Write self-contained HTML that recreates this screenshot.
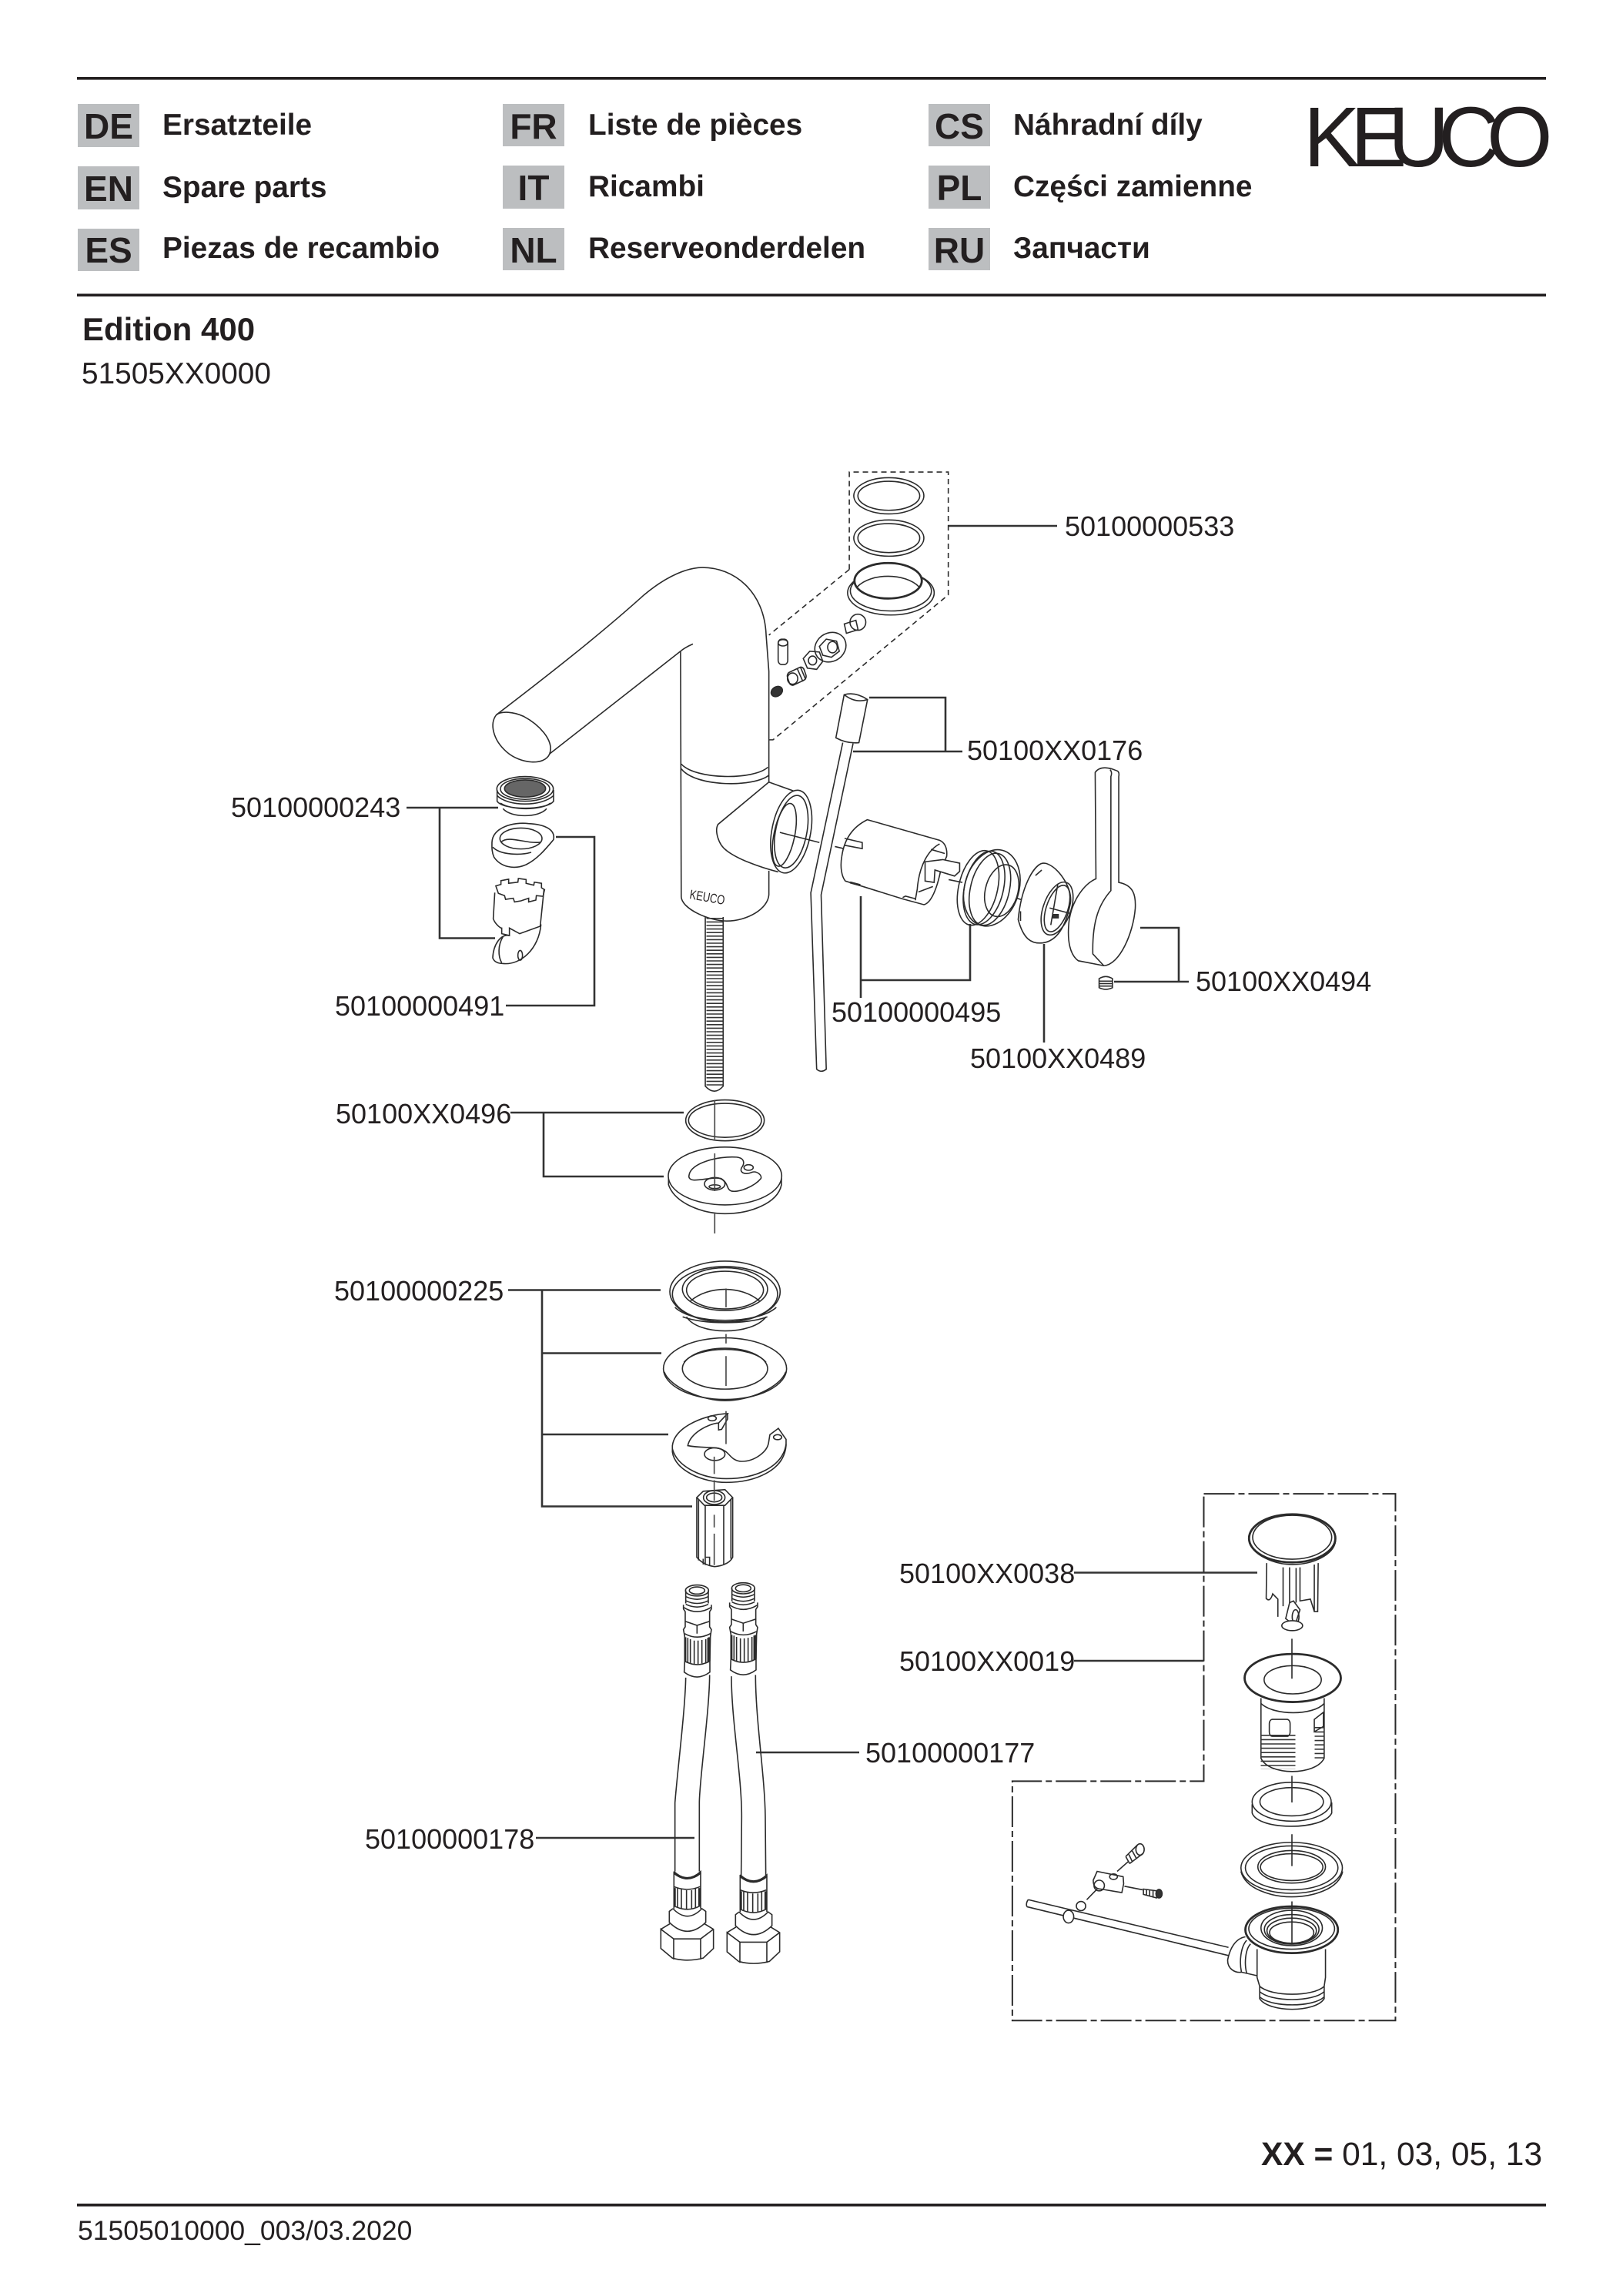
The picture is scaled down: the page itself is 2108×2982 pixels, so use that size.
<!DOCTYPE html>
<html><head><meta charset="utf-8"><style>
html,body{margin:0;padding:0;background:#fff}
svg{display:block}
text{font-family:"Liberation Sans",sans-serif;fill:#231f20}
.l{font-size:36px}
.b{font-weight:bold;font-size:38.8px}
.c{font-weight:bold;font-size:46px;text-anchor:middle}
path,ellipse,line,rect{vector-effect:non-scaling-stroke}
.d path,.d ellipse,.d line,.d rect{fill:none;stroke:#2b2b2b;stroke-width:1.6}
.d .w{fill:#fff}
.d .t{stroke-width:2.8}
.d .f{fill:#333}
.ld path{fill:none;stroke:#333;stroke-width:2.6}
.cl path{fill:none;stroke:#444;stroke-width:1.6}
</style></head><body>
<svg width="2108" height="2982" viewBox="0 0 2108 2982" xmlns="http://www.w3.org/2000/svg">
<rect width="2108" height="2982" fill="#fff"/>
<!-- rules -->
<rect x="100" y="100" width="1908" height="3.6" fill="#231f20"/>
<rect x="100" y="381.5" width="1908" height="3.6" fill="#231f20"/>
<rect x="100" y="2862" width="1908" height="3.6" fill="#231f20"/>
<!-- code boxes -->
<g fill="#bcbec0">
<rect x="101" y="135" width="80" height="56"/><rect x="101" y="216" width="80" height="56"/><rect x="101" y="297" width="80" height="55"/>
<rect x="653" y="135" width="80" height="55"/><rect x="653" y="215" width="80" height="56"/><rect x="653" y="296" width="80" height="55"/>
<rect x="1206" y="135" width="80" height="55"/><rect x="1206" y="215" width="80" height="56"/><rect x="1206" y="296" width="80" height="55"/>
</g>
<text class="c" x="141" y="180">DE</text><text class="c" x="141" y="261">EN</text><text class="c" x="141" y="341">ES</text>
<text class="c" x="693" y="180">FR</text><text class="c" x="693" y="260">IT</text><text class="c" x="693" y="341">NL</text>
<text class="c" x="1246" y="180">CS</text><text class="c" x="1246" y="260">PL</text><text class="c" x="1246" y="341">RU</text>
<text class="b" x="211" y="175">Ersatzteile</text><text class="b" x="211" y="256">Spare parts</text><text class="b" x="211" y="335">Piezas de recambio</text>
<text class="b" x="764" y="175">Liste de pièces</text><text class="b" x="764" y="255">Ricambi</text><text class="b" x="764" y="335">Reserveonderdelen</text>
<text class="b" x="1316" y="175">Náhradní díly</text><text class="b" x="1316" y="255">Części zamienne</text><text class="b" x="1316" y="335">Запчасти</text>
<text x="1693 1754 1803 1868 1931" y="216" font-size="110">KEUCO</text>
<text x="107" y="442" font-size="42" font-weight="bold">Edition 400</text>
<text x="106" y="498" font-size="38.8">51505XX0000</text>
<!-- labels -->
<text class="l" x="1383" y="696">50100000533</text>
<text class="l" x="1256" y="987">50100XX0176</text>
<text class="l" x="1553" y="1287">50100XX0494</text>
<text class="l" x="1080" y="1327">50100000495</text>
<text class="l" x="1260" y="1387">50100XX0489</text>
<text class="l" x="300" y="1061">50100000243</text>
<text class="l" x="435" y="1319">50100000491</text>
<text class="l" x="436" y="1459">50100XX0496</text>
<text class="l" x="434" y="1689">50100000225</text>
<text class="l" x="1168" y="2056">50100XX0038</text>
<text class="l" x="1168" y="2170">50100XX0019</text>
<text class="l" x="1124" y="2289">50100000177</text>
<text class="l" x="474" y="2401">50100000178</text>
<text x="1638" y="2812" font-size="42.5"><tspan font-weight="bold">XX = </tspan>01, 03, 05, 13</text>
<text x="101" y="2909" font-size="35.5">51505010000_003/03.2020</text>
<!-- leaders in native coordinates -->
<g class="ld">
<path d="M1231 683H1373"/>
<path d="M1129 906H1228V976H1108M1228 976H1250"/>
<path d="M1118 1164V1296M1118 1273H1260V1200"/>
<path d="M1356 1226V1354"/>
<path d="M1481 1205H1531V1275H1447M1531 1275H1544"/>
<path d="M528 1049H647M571 1049V1218.500H643"/>
<path d="M722 1087H772V1306H657"/>
<path d="M663 1445H888M706 1445V1528H862"/>
<path d="M660 1675.500H858M704 1675.500V1956.500H899M704 1757.500H859M704 1863H868"/>
<path d="M1395 2042.500H1633M1395 2157H1563.500"/>
<path d="M982 2276H1116M696 2387H902"/>
</g>
<!-- Z2 faucet -->
<g class="d" transform="translate(600,600) scale(.4464,.523)">
<path d="M100 628C250 530 400 430 530 330C600 280 660 262 700 262C790 262 880 320 885 430L893 520V795"/>
<path d="M255 725L636 470Q650 460 672 452"/>
<path d="M636 470L638 1080C640 1110 720 1140 770 1140C830 1140 890 1110 893 1075V1015"/>
<path d="M100 628C80 650 90 690 130 720C170 750 240 755 255 725C270 690 220 650 180 632C150 620 115 618 100 628Z"/>
<path d="M638 750C680 790 850 790 890 758M638 762C680 808 850 808 893 778"/>
<path d="M893 795L745 900C735 915 745 950 770 965C800 985 860 1005 920 1018"/>
<path d="M893 795L975 820"/>
<ellipse cx="958" cy="918" rx="56" ry="105" transform="rotate(14 958 918)" class="w"/>
<ellipse cx="958" cy="918" rx="45" ry="92" transform="rotate(14 958 918)"/>
<ellipse cx="938" cy="926" rx="30" ry="80" transform="rotate(14 938 926)"/>
<path d="M925 920L1040 945M1085 955L1110 960"/>
<!-- rod -->
<path d="M708 1130V1550Q735 1575 760 1550V1130"/>
<!-- dashed -->
<path style="stroke-dasharray:7 5" d="M1127 267V25H1415V330L905 690L893 690M1127 267L893 430"/>
<!-- orings -->
<ellipse cx="1242" cy="84" rx="102" ry="45"/><ellipse cx="1242" cy="84" rx="90" ry="36"/>
<ellipse cx="1242" cy="189" rx="102" ry="45"/><ellipse cx="1242" cy="189" rx="90" ry="36"/>
<ellipse cx="1248" cy="325" rx="126" ry="55"/><ellipse cx="1248" cy="320" rx="118" ry="50"/>
<ellipse cx="1240" cy="295" rx="98" ry="44" class="w t"/>
<path d="M1150 310C1190 275 1290 275 1330 310"/>
<!-- small parts -->
<rect x="920" y="440" width="28" height="63" rx="10"/><ellipse cx="934" cy="449" rx="14" ry="8"/>
<rect x="948" y="515" width="52" height="34" rx="10" transform="rotate(-22 974 532)"/><ellipse cx="962" cy="538" rx="15" ry="14"/>
<path d="M975 512L992 545M985 510L1000 540"/>
<path d="M993 488L1012 470L1040 472L1050 495L1032 515L1005 512Z"/><ellipse cx="1020" cy="493" rx="12" ry="11"/>
<ellipse cx="1072" cy="460" rx="46" ry="36" transform="rotate(-15 1072 460)"/>
<path d="M1040 458L1060 440L1090 445L1098 470L1075 485L1050 480Z"/><ellipse cx="1078" cy="460" rx="14" ry="14"/>
<ellipse cx="1152" cy="398" rx="23" ry="20"/><rect x="1115" y="398" width="35" height="24" transform="rotate(-15 1130 410)"/>
<ellipse cx="916" cy="570" rx="17" ry="12" class="f" transform="rotate(-20 916 570)"/>
<!-- 0176 rod -->
<path d="M1112 578L1088 685Q1120 700 1155 697L1180 590Q1145 570 1112 578Z"/><path d="M1112 578Q1145 600 1180 590"/>
<path d="M1108 697L1015 1070L1032 1508Q1045 1518 1060 1508L1045 1075L1138 699"/>
</g>
<line x1="928" y1="1192" x2="928" y2="1412" stroke="#333" stroke-width="21" stroke-dasharray="1.6 3"/>
<text x="895" y="1167" font-size="17" textLength="46" lengthAdjust="spacingAndGlyphs" transform="rotate(10 895 1167)">KEUCO</text>
<!-- Z3 cartridge / handle -->
<g class="d" transform="translate(1000,880) scale(.5102,.3571)">
<path d="M248 517L432 592C445 600 452 620 450 650L435 700C425 770 410 820 392 826L338 805L192 740C183 725 178 690 183 650C190 580 215 540 248 517Z"/>
<path d="M190 585L235 600V622L190 610M432 605C405 625 380 680 375 770L370 810"/>
<path d="M395 670L440 662L483 675V705L470 722L420 700L418 745L395 740Z" class="w"/>
<path d="M410 625L445 640M378 780L415 760M338 800L345 795L372 805"/>
<path class="t" d="M204 745L230 755"/>
<path d="M455 735L490 745M590 785L645 810"/>
<ellipse cx="565" cy="765" rx="70" ry="140" transform="rotate(8 565 765)" class="w"/>
<ellipse cx="530" cy="765" rx="50" ry="137" transform="rotate(8 530 765)"/>
<ellipse cx="545" cy="765" rx="50" ry="135" transform="rotate(8 545 765)"/>
<ellipse cx="560" cy="770" rx="50" ry="132" transform="rotate(8 560 770)"/>
<ellipse cx="590" cy="775" rx="42" ry="95" transform="rotate(8 590 775)"/>
<path d="M690 677C670 690 640 760 632 880C645 950 665 970 695 965C720 960 750 930 765 820C770 770 740 700 710 680Q700 672 690 677Z" class="w"/>
<ellipse cx="731" cy="840" rx="36" ry="98" transform="rotate(12 731 840)"/>
<ellipse cx="731" cy="840" rx="28" ry="86" transform="rotate(12 731 840)"/>
<path d="M712 838L770 860M733 750L715 900"/><rect x="720" y="862" width="14" height="12" class="f"/>
<path d="M676 720L692 700M638 850V885"/>
<path d="M828 345Q840 320 870 332L885 340Q890 345 888 360V745C925 755 932 790 930 840C925 930 890 1045 850 1048L785 1030C765 1010 755 960 762 880C770 810 800 750 830 732Z" class="w"/>
<path d="M866 335Q872 345 868 360V775C840 820 820 880 822 1005L850 1048"/>
<path d="M838 1095Q855 1080 872 1095V1128Q855 1140 838 1128Z"/>
<path d="M838 1104H872M838 1113H872M838 1122H872"/>
</g>
<!-- Z4 aerator -->
<g class="d" transform="translate(420,980) scale(.3333,.4847)">
<ellipse cx="786" cy="92" rx="110" ry="33"/><ellipse cx="786" cy="92" rx="96" ry="28"/>
<ellipse cx="786" cy="91" rx="80" ry="23" style="fill:#666"/>
<path d="M677 95V125C700 150 870 150 897 125V95M677 110C720 140 850 140 897 110M690 130C730 150 850 150 885 130"/>
<path d="M700 145C730 170 840 170 870 145"/>
<path d="M657 235C660 195 740 180 800 185C860 187 905 200 897 228C870 250 835 280 790 295C740 310 690 300 665 275C655 260 657 245 657 235Z"/>
<ellipse cx="770" cy="225" rx="82" ry="28"/>
<path d="M692 235C720 215 790 240 845 235M660 248C690 270 770 270 810 262"/>
<path d="M672 352L692 348V338L722 334V345L758 342L760 332L790 335V345L820 350L822 342L850 345V357L862 362L856 380L830 378L828 390L800 395V385L770 392L745 395L740 385L710 388L706 378L682 372Z"/>
<path d="M668 370L662 440C670 455 690 465 695 465V480L725 485V465L765 480L845 460L860 360"/>
<path d="M725 485C690 480 662 510 660 545Q668 560 700 560C770 565 840 520 848 455M700 488C680 510 680 540 695 558"/>
<ellipse cx="767" cy="538" rx="9" ry="13"/>
</g>
<!-- Z5 plates -->
<g class="d" transform="translate(680,1400) scale(.3333,.4082)">
<ellipse cx="785" cy="135" rx="153" ry="65"/><ellipse cx="785" cy="135" rx="142" ry="54"/>
<ellipse cx="785" cy="312" rx="221" ry="92"/>
<path d="M565 320V340C590 400 700 432 785 432C880 432 990 400 1005 340V320"/>
<path d="M645 310C650 270 760 248 830 252C865 255 860 275 850 285C840 300 860 310 890 300C910 295 930 310 925 320C900 345 840 365 810 360C790 355 800 335 770 320C740 315 700 325 665 325C650 325 642 318 645 310Z"/>
<ellipse cx="877" cy="285" rx="18" ry="9"/><ellipse cx="745" cy="337" rx="40" ry="20"/><ellipse cx="745" cy="346" rx="22" ry="6"/>
<ellipse cx="785" cy="680" rx="215" ry="97"/><ellipse cx="785" cy="688" rx="205" ry="88"/>
<ellipse cx="785" cy="672" rx="166" ry="68"/><ellipse cx="785" cy="675" rx="150" ry="60"/>
<path d="M650 710C720 660 850 660 920 710M635 760C680 820 890 820 945 760"/>
<path d="M590 730C660 785 910 785 985 730M620 760C700 785 870 785 950 760" />
<ellipse cx="785" cy="925" rx="240" ry="98"/>
<path d="M548 935C570 985 700 1027 785 1027C880 1027 1000 985 1022 935"/>
<ellipse cx="785" cy="925" rx="166" ry="65"/>
<path d="M625 905C680 850 890 850 945 905"/>
<path d="M795 1068C720 1070 590 1105 580 1170V1190C590 1250 700 1287 790 1287C900 1287 1015 1250 1023 1170V1150L993 1115L960 1135L955 1160C950 1190 900 1220 850 1220C810 1220 800 1190 780 1185C750 1170 700 1180 640 1170C650 1130 720 1100 760 1098Z"/>
<path d="M580 1180C600 1240 700 1275 790 1275C900 1275 1010 1240 1023 1165M760 1098V1120L772 1118L795 1085V1068"/>
<ellipse cx="735" cy="1083" rx="16" ry="8"/><ellipse cx="990" cy="1143" rx="16" ry="8"/><ellipse cx="745" cy="1197" rx="40" ry="20"/>
<path d="M675 1335L700 1315L785 1310L815 1335L785 1360L705 1360Z"/>
<ellipse cx="743" cy="1335" rx="42" ry="22"/><ellipse cx="743" cy="1335" rx="30" ry="14"/>
<path d="M675 1335V1525Q700 1550 745 1555Q800 1550 815 1525V1335M708 1360V1550M780 1360V1550"/>
<path d="M700 1530V1548M710 1525H725V1552M682 1340V1535M808 1340V1530"/>
</g>
<g class="cl" transform="translate(680,1400) scale(.3333,.4082)">
<path d="M745 70V195M745 240V360M745 432V495M789 670V730M789 815V845M789 885V980M789 1060V1165M743 1205V1260M743 1280V1345M743 1390V1430M743 1450V1550"/>
</g>
<!-- Z6 hoses -->
<g class="d" transform="translate(800,2020) scale(.3333,.3571)">
<g id="top">
<ellipse cx="316" cy="128" rx="45" ry="20"/><ellipse cx="316" cy="128" rx="30" ry="13"/>
<path d="M272 128V175M360 128V175M272 150Q316 170 360 150M272 165Q316 185 360 165M272 178Q316 198 360 178"/>
<path d="M263 180V195L270 205V260L263 270L268 295V385L266 425Q316 460 366 425V385L368 295L372 270L365 260V205L372 195V180"/>
<path d="M265 190Q316 220 370 190M270 240L316 255L365 240M268 285Q316 310 368 285M268 385Q316 410 366 385M316 255V285"/>
<path d="M280 300V390M290 305V392M305 310V395M320 310V395M335 308V393M350 305V390M358 300V388"/>
<path class="t" d="M270 298V385M364 298V385"/>
</g>
<use href="#top" x="180" y="-8"/>
<path d="M272 445C270 560 240 780 230 900V1150M365 435C365 560 325 820 325 900V1150"/>
<path d="M450 440C450 600 490 800 490 950L488 1165M544 435C544 600 580 800 582 950L584 1165"/>
<g id="bot">
<path d="M226 1150Q278 1195 330 1150V1285"/><path d="M226 1150V1285"/>
<path class="t" d="M226 1155Q278 1195 330 1155"/>
<path d="M226 1205Q278 1225 328 1205M226 1275Q278 1300 328 1275M240 1210V1280M255 1215V1285M275 1218V1288M295 1218V1285M310 1212V1282"/>
<path class="t" d="M229 1210V1275M325 1210V1275"/>
<path d="M222 1285Q278 1340 335 1285L350 1295V1335Q278 1400 208 1335V1295L222 1285"/>
<path d="M175 1360L210 1340M345 1340L380 1360V1430L340 1465Q278 1480 220 1465L175 1430V1360L225 1395H330L380 1360M225 1395V1470M330 1395V1470"/>
</g>
<use href="#bot" x="258" y="12"/>
</g>
<!-- Z7 drain -->
<g class="d" transform="translate(1300,1930) scale(.3378,.4592)">
<path style="stroke-dasharray:40 5 8 5;stroke-width:2" d="M780 22H1517V1512H44V835H780Z"/>
<ellipse cx="1120" cy="148" rx="166" ry="68" class="t"/>
<ellipse cx="1120" cy="145" rx="152" ry="62"/>
<path d="M955 155C965 195 1050 222 1120 222C1200 222 1280 195 1287 155"/>
<path d="M1022 218L1020 318Q1035 330 1045 305L1065 320V370M1085 230V340M1110 230V330M1135 232V330M1150 230V325L1190 320L1205 355H1218L1220 218M1205 222V355"/>
<path d="M1110 330L1095 375L1130 395L1150 350L1125 325Z" class="w"/>
<ellipse cx="1133" cy="370" rx="13" ry="20"/>
<ellipse cx="1120" cy="395" rx="40" ry="14" class="w"/>
<ellipse cx="1122" cy="543" rx="185" ry="68" class="t"/>
<ellipse cx="1122" cy="548" rx="110" ry="40"/>
<path d="M1000 600V770C1030 820 1210 820 1243 770V600M1000 615C1050 650 1200 650 1243 615"/>
<rect x="1032" y="660" width="80" height="48" rx="12"/>
<path d="M1205 660L1240 640V680L1205 695Z"/>
<ellipse cx="1118" cy="893" rx="152" ry="55"/><ellipse cx="1118" cy="893" rx="122" ry="40"/>
<path d="M966 900V925C990 975 1240 975 1272 925V895"/>
<ellipse cx="1118" cy="1080" rx="195" ry="72"/><ellipse cx="1118" cy="1080" rx="178" ry="62"/>
<ellipse cx="1118" cy="1077" rx="130" ry="46"/><ellipse cx="1118" cy="1078" rx="120" ry="38"/>
<path d="M923 1090C940 1140 1040 1162 1118 1162C1200 1162 1300 1140 1314 1090"/>
<ellipse cx="1118" cy="1255" rx="178" ry="66" class="t"/><ellipse cx="1118" cy="1252" rx="165" ry="58"/>
<ellipse cx="1118" cy="1250" rx="118" ry="50"/><ellipse cx="1118" cy="1254" rx="105" ry="42"/><ellipse cx="1118" cy="1258" rx="95" ry="36"/><ellipse cx="1118" cy="1263" rx="85" ry="30"/>
<path d="M985 1310V1390L995 1415V1450C1030 1490 1210 1490 1243 1450V1415L1248 1390V1310M995 1415C1040 1445 1200 1445 1243 1415M995 1430C1040 1460 1200 1460 1243 1430M995 1445C1040 1475 1200 1475 1243 1445"/>
<path d="M940 1275C900 1280 880 1310 872 1340C870 1365 900 1378 925 1375L985 1385M945 1285C925 1300 915 1340 925 1375M960 1295C940 1310 935 1350 945 1378"/>
<path d="M105 1170L875 1305M100 1190L875 1328M105 1170Q95 1180 100 1190"/>
<ellipse cx="308" cy="1188" rx="18" ry="13" class="w"/><ellipse cx="260" cy="1218" rx="20" ry="18" class="w"/>
<path d="M355 1115L370 1090L470 1105L472 1125L465 1150L385 1140Q355 1140 355 1115Z"/>
<ellipse cx="378" cy="1130" rx="20" ry="15"/><ellipse cx="433" cy="1105" rx="15" ry="8"/>
<path d="M330 1170L370 1140M447 1090L490 1062M475 1132L545 1142"/>
<ellipse cx="535" cy="1028" rx="16" ry="16"/>
<path d="M480 1048L525 1015M495 1068L545 1040M480 1048L495 1068M492 1042L505 1062M505 1032L520 1052"/>
<path d="M548 1140L600 1145L598 1165L548 1155ZM560 1142V1158M572 1143V1160M585 1144V1162"/>
<ellipse cx="608" cy="1153" rx="12" ry="12" class="f"/>
<path d="M1119 432V545M1119 820V895M1119 985V1075M1119 1175V1295"/>
</g>
<line x1="1660" y1="2253" x2="1660" y2="2298" stroke="#333" stroke-width="45" stroke-dasharray="1.6 4"/>
<line x1="1714" y1="2243" x2="1714" y2="2287" stroke="#333" stroke-width="13" stroke-dasharray="1.6 4"/>
</svg>
</body></html>
